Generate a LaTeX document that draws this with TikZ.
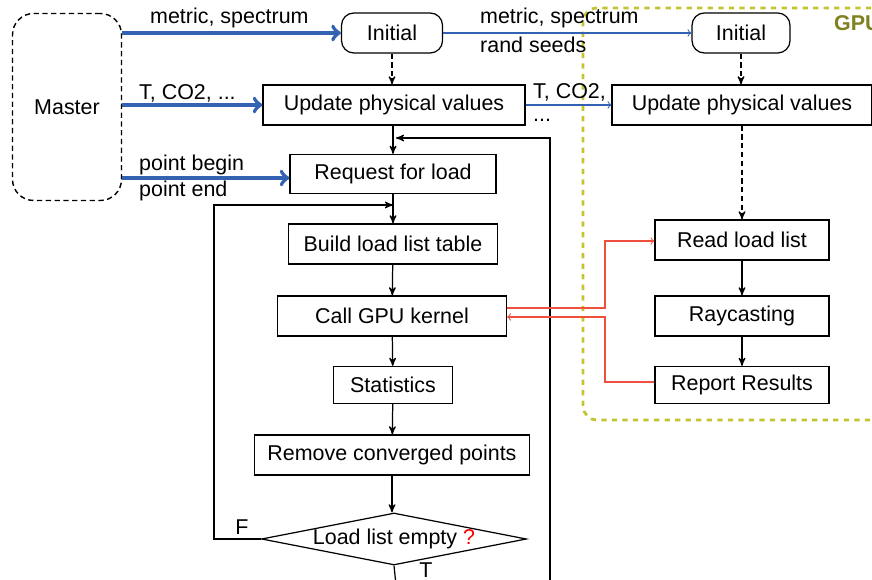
\documentclass[tikz,border=0pt]{standalone}
\usepackage{fontspec}
\setmainfont{Liberation Sans}
\usetikzlibrary{arrows,shapes,calc,positioning}
\definecolor{hostblue}{RGB}{52,98,178}
\definecolor{kernred}{RGB}{238,80,60}
\definecolor{gpuline}{RGB}{196,196,50}
\definecolor{gputext}{RGB}{128,128,32}

\tikzset{
    every node/.style={font=\fontsize{12.2}{14}\selectfont},
    proc/.style={draw, line width=0.7pt, minimum height=0.8cm, inner sep=0pt},
    start/.style={proc, rounded corners=7pt},
    flow/.style={->, >=stealth', line width=0.7pt},
    dflow/.style={flow, densely dashed},
    hostlink/.style={-to, line width=2.3pt, hostblue},
    devlink/.style={->, >=to, line width=0.6pt, hostblue},
    kernlink/.style={->, >=to, line width=0.6pt, kernred},
}

\begin{document}
\begin{tikzpicture}[x=0.02cm, y=-0.02cm]
        \useasboundingbox (0,0) rectangle (872,580);
        % GPU side
        \draw [gpuline, line width=1.6pt, dashed, rounded corners=8pt] (583,420) rectangle (900,8);
        \node [anchor=west, text=gputext, font=\fontsize{12.2}{14}\selectfont\bfseries] (gpulabel) at (828,23) {GPU};

        % host
        \node [draw, densely dashed, line width=0.8pt, rounded corners=12pt, minimum width=2.18cm, minimum height=3.74cm] (master) at (67,107) {Master};
        \node [start, minimum width=2.02cm] (init) at (392,33) {Initial};
        \node [proc, minimum width=5.24cm] (upd) at (394,105) {Update physical values};
        \node [proc, minimum width=4.12cm, minimum height=0.78cm] (req) at (393,174) {Request for load};
        \node [proc, minimum width=4.18cm] (build) at (393,244) {Build load list table};
        \node [proc, minimum width=4.58cm] (call) at (392,316) {Call GPU kernel};
        \node [proc, minimum width=2.38cm, minimum height=0.74cm] (stat) at (393,385) {Statistics};
        \node [proc, minimum width=5.5cm] (remove) at (392,455) {Remove converged points};
        \node [draw, diamond, line width=0.7pt, inner sep=0pt, minimum width=5.3cm, minimum height=1.04cm,
            label=center:{Load list empty \textcolor{red}{?}}] (empty) at (394,539) {};

        % device
        \node [start, minimum width=1.96cm] (ginit) at (741,33) {Initial};
        \node [proc, minimum width=5.2cm] (gupd) at (742,105) {Update physical values};
        \node [proc, minimum width=3.48cm] (read) at (742,240) {Read load list};
        \node [proc, minimum width=3.48cm] (ray) at (742,316) {Raycasting};
        \node [proc, minimum width=3.48cm, minimum height=0.74cm] (report) at (742,385) {Report Results};

        % from master
        \draw [hostlink] (master.east |- init) -- (init);
        \node [anchor=west] (l1) at (144,18) {metric, spectrum};
        \draw [hostlink] (master.east |- upd) -- (upd);
        \node [anchor=west] (l2) at (133,93) {T, CO2, ...};
        \draw [hostlink] (master.east |- 0,178) -- (req.west |- 0,178);
        \node [anchor=west] (l3) at (133,165) {point begin};
        \node [anchor=west] (l4) at (133,191) {point end};

        % host flow
        \draw [dflow] (init) -- (init |- upd.north);
        \draw [flow] (upd.south -| req) -- (req);
        \draw [flow] (req) -- (build);
        \draw [flow] (build) -- (call);
        \draw [flow] (call) -- (stat);
        \draw [flow] (stat) -- (remove);
        \draw [flow] (remove) -- (remove |- empty.north);
        \coordinate (loopin) at (393,205);
        \draw [flow] (empty.west) -- ++(-47,0) |- (loopin);
        \node (fmark) at (242,527) {F};
        \coordinate (done) at (396,585);
        \draw [line width=0.7pt] (empty.south) -- (done);
        \node (tmark) at (426,570) {T};
        \coordinate (next) at (550,585);
        \draw [flow] (next) |- (396,138);

        % host to device
        \draw [devlink] (init) -- (ginit);
        \node [anchor=west] (l5) at (474,18) {metric, spectrum};
        \node [anchor=west] (l6) at (474,45) {rand seeds};
        \draw [devlink] (upd) -- (gupd);
        \node [anchor=west] (l7) at (527,92) {T, CO2,};
        \node [anchor=west] (l8) at (527,120) {...};

        % device flow
        \draw [dflow] (ginit) -- (ginit |- gupd.north);
        \draw [dflow] (gupd.south -| read) -- (read);
        \draw [flow] (read) -- (ray);
        \draw [flow] (ray) -- (report);

        % kernel calls
        \draw [kernlink] (call.east |- 0,308) -| (605,241) -- (read.west |- 0,241);
        \draw [kernlink] (report.west |- 0,382) -| (605,317) -- (call.east |- 0,317);
    \end{tikzpicture}
\end{document}
